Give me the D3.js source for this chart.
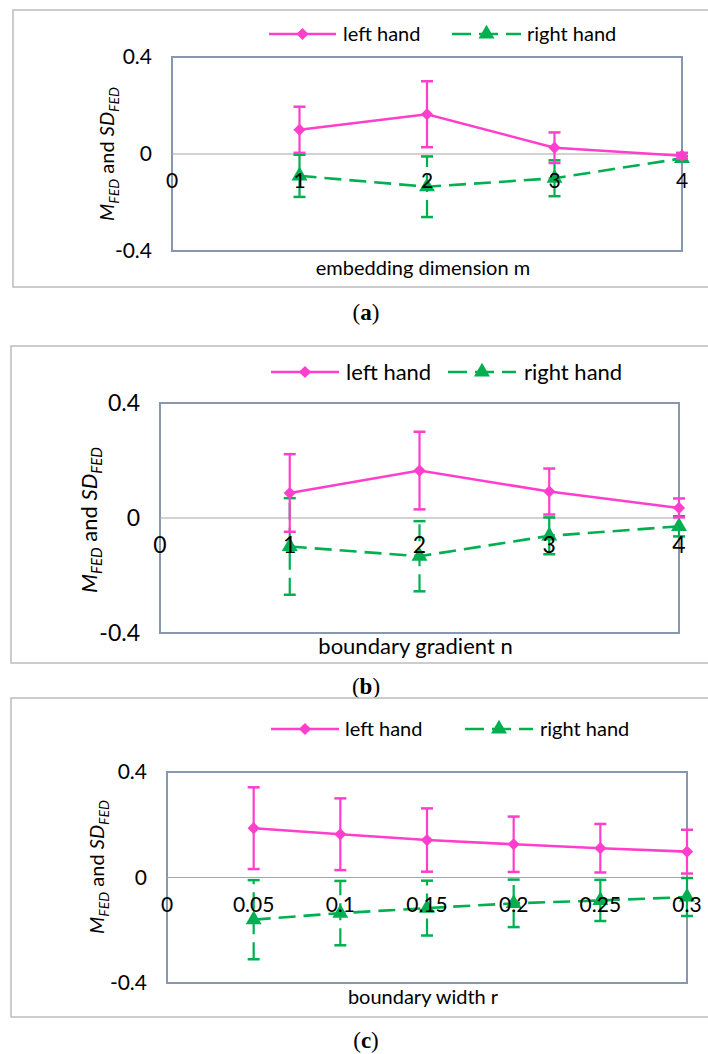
<!DOCTYPE html>
<html lang="en">
<head>
<meta charset="utf-8">
<title>M_FED and SD_FED, left vs right hand</title>
<script src="https://cdn.jsdelivr.net/npm/d3@7"></script>
<style>
  body { margin: 0; background: #fff; }
  svg { display: block; }
</style>
</head>
<body>
<div id="chart"></div>
<script>
// series and axis values
var seriesNames = ["left hand", "right hand"];
var yTicks = [-0.4, 0, 0.4];
var yTickLabels = ["-0.4", "0", "0.4"];

// (a) embedding dimension m
var xA = [1, 2, 3, 4];
var xTicksA = [0, 1, 2, 3, 4];
var xTickLabelsA = ["0", "1", "2", "3", "4"];
var leftMeanA = [0.100, 0.164, 0.026, -0.007];
var leftSdA = [0.095, 0.136, 0.063, 0.012];
var rightMeanA = [-0.090, -0.135, -0.100, -0.018];
var rightSdA = [0.087, 0.125, 0.074, 0.010];

// (b) boundary gradient n
var xB = [1, 2, 3, 4];
var xTicksB = [0, 1, 2, 3, 4];
var xTickLabelsB = ["0", "1", "2", "3", "4"];
var leftMeanB = [0.087, 0.165, 0.092, 0.035];
var leftSdB = [0.135, 0.135, 0.080, 0.033];
var rightMeanB = [-0.099, -0.133, -0.062, -0.029];
var rightSdB = [0.168, 0.122, 0.064, 0.035];

// (c) boundary width r
var xC = [0.05, 0.1, 0.15, 0.2, 0.25, 0.3];
var xTicksC = [0, 0.05, 0.1, 0.15, 0.2, 0.25, 0.3];
var xTickLabelsC = ["0", "0.05", "0.1", "0.15", "0.2", "0.25", "0.3"];
var leftMeanC = [0.187, 0.164, 0.142, 0.126, 0.111, 0.098];
var leftSdC = [0.155, 0.136, 0.120, 0.105, 0.092, 0.083];
var rightMeanC = [-0.160, -0.135, -0.116, -0.098, -0.087, -0.074];
var rightSdC = [0.150, 0.122, 0.104, 0.090, 0.078, 0.072];

var W = 708, H = 1054;
var pink = "#ff3fcc", green = "#00b050";
var dash = "17,8";
var font = "Lato, 'Open Sans', sans-serif";

var svg = d3.select("#chart").append("svg")
    .attr("width", W).attr("height", H);

var diamond = d3.symbolDiamond2 || d3.symbolDiamond;

// layout of each panel (pixel boxes only)
var panels = [
  {x: xA, ticks: xTicksA, labels: xTickLabelsA, dom: [0, 4],
   lm: leftMeanA, ls: leftSdA, rm: rightMeanA, rs: rightSdA,
   frame: [13, 10, 287], plot: [172, 682, 57, 251], legY: 34,
   leg: [269, 336, 343, 452, 521, 527], yt: [107, 154], fs: 20,
   xtitle: "embedding dimension m", xty: 268, cap: "a", capY: 312},
  {x: xB, ticks: xTicksB, labels: xTickLabelsB, dom: [0, 4],
   lm: leftMeanB, ls: leftSdB, rm: rightMeanB, rs: rightSdB,
   frame: [11, 346, 663], plot: [160, 679, 403, 633], legY: 372,
   leg: [271, 339, 346, 448, 516, 524], yt: [89, 520], fs: 22,
   xtitle: "boundary gradient n", xty: 646, cap: "b", capY: 686},
  {x: xC, ticks: xTicksC, labels: xTickLabelsC, dom: [0, 0.3],
   lm: leftMeanC, ls: leftSdC, rm: rightMeanC, rs: rightSdC,
   frame: [11, 698, 1017], plot: [167, 687, 772, 983], legY: 729,
   leg: [271, 339, 345, 465, 533, 540], yt: [97, 867], fs: 20,
   xtitle: "boundary width r", xty: 997, cap: "c", capY: 1040}
];

panels.forEach(function(p) {
  var g = svg.append("g");
  var x = d3.scaleLinear().domain(p.dom).range([p.plot[0], p.plot[1]]);
  var y = d3.scaleLinear().domain([-0.4, 0.4]).range([p.plot[3], p.plot[2]]);

  // outer chart frame (runs off the right edge like the original)
  g.append("rect")
    .attr("x", p.frame[0]).attr("y", p.frame[1])
    .attr("width", 720).attr("height", p.frame[2] - p.frame[1])
    .attr("fill", "#fff").attr("stroke", "#bcbcbc").attr("stroke-width", 1.5);

  // plot area box
  g.append("rect")
    .attr("x", x.range()[0]).attr("y", y.range()[1])
    .attr("width", x.range()[1] - x.range()[0])
    .attr("height", y.range()[0] - y.range()[1])
    .attr("fill", "#fff").attr("stroke", "#8797b0").attr("stroke-width", 2);

  // zero line = category axis
  g.append("line")
    .attr("x1", x.range()[0]).attr("x2", x.range()[1])
    .attr("y1", y(0)).attr("y2", y(0))
    .attr("stroke", "#a6a6a6").attr("stroke-width", 1.2);

  // y tick labels
  g.selectAll("text.yt").data(yTicks).enter().append("text")
    .attr("class", "yt")
    .attr("x", x.range()[0] - 20).attr("y", function(d) { return y(d); })
    .attr("dy", "0.35em").attr("text-anchor", "end")
    .attr("font-family", font).attr("font-size", p.fs + 1)
    .text(function(d, i) { return yTickLabels[i]; });

  // y axis title
  var yt = g.append("text")
    .attr("transform", "translate(" + p.yt[0] + "," + p.yt[1] + ") rotate(-90)")
    .attr("text-anchor", "middle").attr("dy", "0.35em")
    .attr("font-family", font).attr("font-size", p.fs);
  var sub = Math.round(p.fs * 0.68);
  yt.append("tspan").attr("font-style", "italic").text("M");
  yt.append("tspan").attr("font-style", "italic").attr("font-size", sub).attr("dy", 5).text("FED");
  yt.append("tspan").attr("dy", -5).text(" and ");
  yt.append("tspan").attr("font-style", "italic").text("SD");
  yt.append("tspan").attr("font-style", "italic").attr("font-size", sub).attr("dy", 5).text("FED");

  // x axis title
  g.append("text")
    .attr("x", (x.range()[0] + x.range()[1]) / 2 - 4).attr("y", p.xty)
    .attr("dy", "0.35em").attr("text-anchor", "middle")
    .attr("font-family", font).attr("font-size", p.fs)
    .text(p.xtitle);

  var series = [
    {name: seriesNames[0], m: p.lm, s: p.ls, color: pink, dash: null, sym: diamond, size: 95},
    {name: seriesNames[1], m: p.rm, s: p.rs, color: green, dash: dash, sym: d3.symbolTriangle, size: 110}
  ];

  // draw green first so pink sits over it like the original
  series.slice().reverse().forEach(function(s) {
    var pts = p.x.map(function(v, i) { return {x: v, m: s.m[i], s: s.s[i]}; });
    var eg = g.append("g");
    // error bars
    eg.selectAll("line.eb").data(pts).enter().append("line")
      .attr("x1", function(d) { return x(d.x); }).attr("x2", function(d) { return x(d.x); })
      .attr("y1", function(d) { return y(d.m - d.s); }).attr("y2", function(d) { return y(d.m + d.s); })
      .attr("stroke", s.color).attr("stroke-width", 2.2)
      .attr("stroke-dasharray", s.dash);
    [1, -1].forEach(function(sign) {
      eg.selectAll(null).data(pts).enter().append("line")
        .attr("x1", function(d) { return x(d.x) - 6; }).attr("x2", function(d) { return x(d.x) + 6; })
        .attr("y1", function(d) { return y(d.m + sign * d.s); })
        .attr("y2", function(d) { return y(d.m + sign * d.s); })
        .attr("stroke", s.color).attr("stroke-width", 2.5);
    });
    // mean line
    eg.append("path").datum(pts)
      .attr("d", d3.line().x(function(d) { return x(d.x); }).y(function(d) { return y(d.m); }))
      .attr("fill", "none").attr("stroke", s.color).attr("stroke-width", 2.6)
      .attr("stroke-dasharray", s.dash);
    // markers
    eg.selectAll("path.mk").data(pts).enter().append("path")
      .attr("transform", function(d) { return "translate(" + x(d.x) + "," + y(d.m) + ")"; })
      .attr("d", d3.symbol().type(s.sym).size(s.size))
      .attr("fill", s.color);
  });

  // x tick labels, just under the zero line, drawn over the series
  g.selectAll("text.xt").data(p.ticks).enter().append("text")
    .attr("class", "xt")
    .attr("x", function(d) { return x(d); }).attr("y", y(0) + 27)
    .attr("dy", "0.35em").attr("text-anchor", "middle")
    .attr("font-family", font).attr("font-size", p.fs + 1)
    .text(function(d, i) { return p.labels[i]; });

  // legend
  var leg = [
    {x0: p.leg[0], x1: p.leg[1], tx: p.leg[2], s: series[0]},
    {x0: p.leg[3], x1: p.leg[4], tx: p.leg[5], s: series[1]}
  ];
  leg.forEach(function(l) {
    g.append("line")
      .attr("x1", l.x0).attr("x2", l.x1).attr("y1", p.legY).attr("y2", p.legY)
      .attr("stroke", l.s.color).attr("stroke-width", 2.6)
      .attr("stroke-dasharray", l.s.dash ? "19,8" : null);
    g.append("path")
      .attr("transform", "translate(" + ((l.x0 + l.x1) / 2) + "," + p.legY + ")")
      .attr("d", d3.symbol().type(l.s.sym).size(l.s.size))
      .attr("fill", l.s.color);
    g.append("text")
      .attr("x", l.tx).attr("y", p.legY).attr("dy", "0.35em")
      .attr("font-family", font).attr("font-size", p.fs)
      .text(l.s.name);
  });

  // caption (a) / (b) / (c)
  var cap = svg.append("text")
    .attr("x", 366).attr("y", p.capY).attr("dy", "0.35em")
    .attr("text-anchor", "middle")
    .attr("font-family", "'Liberation Serif', 'DejaVu Serif', serif")
    .attr("font-size", 23);
  cap.append("tspan").text("(");
  cap.append("tspan").attr("font-weight", "bold").text(p.cap);
  cap.append("tspan").text(")");
});
</script>
</body>
</html>
